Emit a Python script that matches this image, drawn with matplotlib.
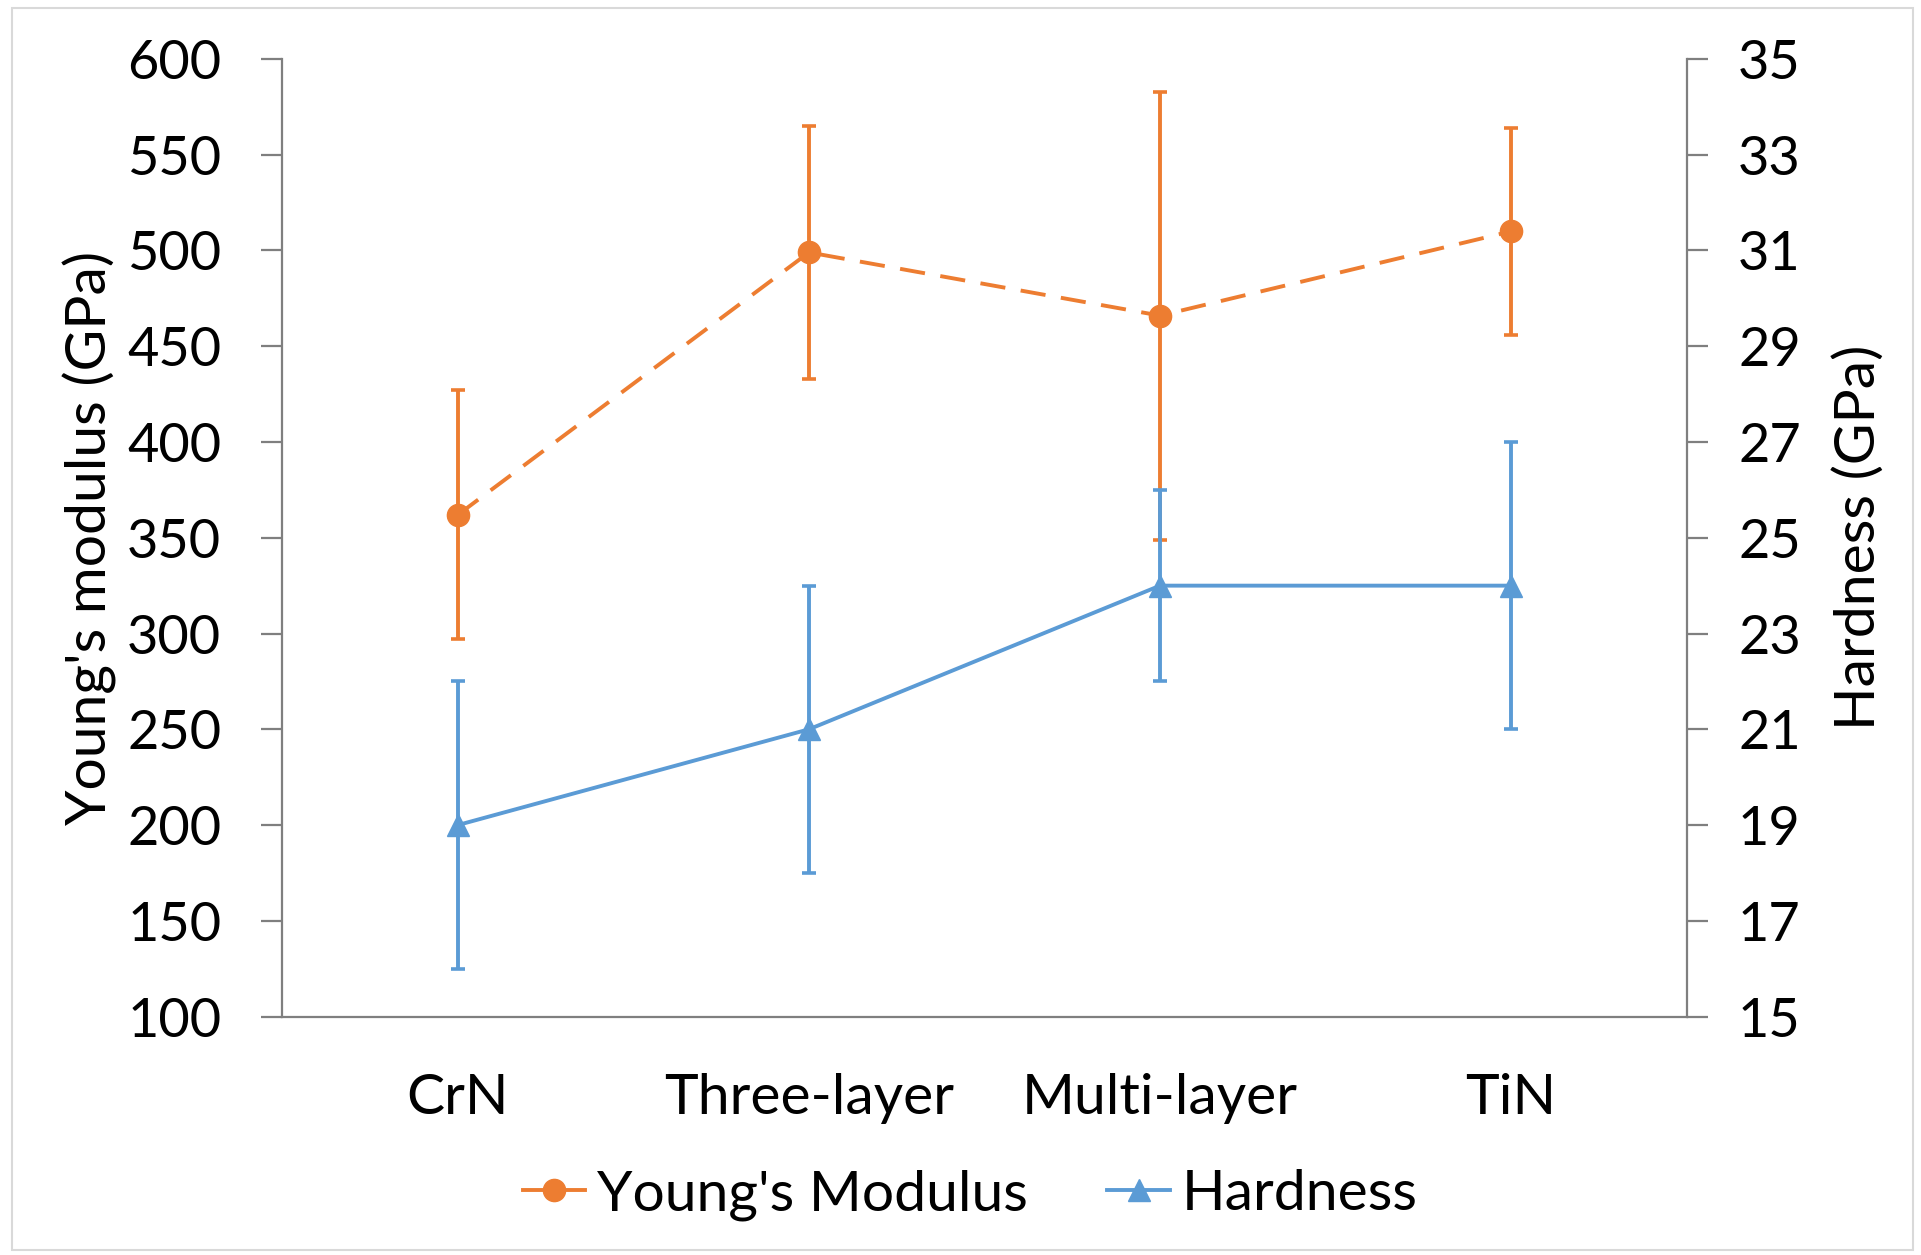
import matplotlib.pyplot as plt
from matplotlib.lines import Line2D
from matplotlib.patches import Rectangle

plt.rcParams['font.family'] = ['Lato', 'DejaVu Sans']

# coating samples
samples = ['CrN', 'Three-layer', 'Multi-layer', 'TiN']

# Young's modulus (GPa) with standard deviation
modulus = [362, 499, 466, 510]
modulus_err = [65, 66, 117, 54]

# Hardness (GPa) with standard deviation
hardness = [19, 21, 24, 24]
hardness_err = [3, 3, 2, 3]

ORANGE = '#ED7D31'
BLUE = '#5B9BD5'
AXIS = '#7f7f7f'
FS = 39
LFS = 41

fig = plt.figure(figsize=(19.21, 12.55), dpi=100)
ax = fig.add_axes([0.147, 0.190, 0.731, 0.763])
ax2 = ax.twinx()

x = list(range(len(samples)))

ax.errorbar(x, modulus, yerr=modulus_err, color=ORANGE, lw=2.8,
            dashes=(6.5, 4), marker='o', ms=16, elinewidth=2.8,
            capsize=5, capthick=2.6, ecolor=ORANGE)
ax2.errorbar(x, hardness, yerr=hardness_err, color=BLUE, lw=2.8,
             marker='^', ms=16, elinewidth=2.8, capsize=5, capthick=2.6,
             ecolor=BLUE)

ax.set_xlim(-0.5, 3.5)
ax.set_ylim(100, 600)
ax.set_yticks(range(100, 601, 50))
ax2.set_ylim(15, 35)
ax2.set_yticks(range(15, 36, 2))

ax.set_xticks(x)
ax.set_xticklabels(samples)

for a in (ax, ax2):
    a.spines['top'].set_visible(False)
    for side in ('left', 'right', 'bottom'):
        a.spines[side].set_color(AXIS)
        a.spines[side].set_linewidth(1.6)

ax.spines['right'].set_visible(False)
ax2.spines['left'].set_visible(False)
ax2.spines['bottom'].set_visible(False)

ax.tick_params(axis='y', direction='out', length=15, width=1.6, color=AXIS,
               labelsize=FS, pad=29)
ax.tick_params(axis='x', length=0, labelsize=LFS, pad=41)
ax2.tick_params(axis='y', direction='out', length=15, width=1.6, color=AXIS,
                labelsize=FS, pad=22)

ax.set_ylabel("Young's modulus (GPa)", fontsize=LFS)
ax2.set_ylabel('Hardness (GPa)', fontsize=LFS)
ax.yaxis.set_label_coords(-0.118, 0.5)
ax2.yaxis.set_label_coords(1.104, 0.5)

handles = [
    Line2D([], [], color=ORANGE, lw=2.8, marker='o', ms=16),
    Line2D([], [], color=BLUE, lw=2.8, marker='^', ms=16),
]
fig.legend(handles, ["Young's Modulus", 'Hardness'], loc='center',
           bbox_to_anchor=(0.505, 0.048), ncol=2, frameon=False,
           fontsize=LFS, handlelength=1.1, handletextpad=0.2,
           columnspacing=1.4)

# thin frame around the whole chart area
fig.patches.append(Rectangle((0.006, 0.004), 0.99, 0.99, transform=fig.transFigure,
                             fill=False, edgecolor='#d9d9d9', lw=1.5))

fig.savefig('out.png', dpi=100)
